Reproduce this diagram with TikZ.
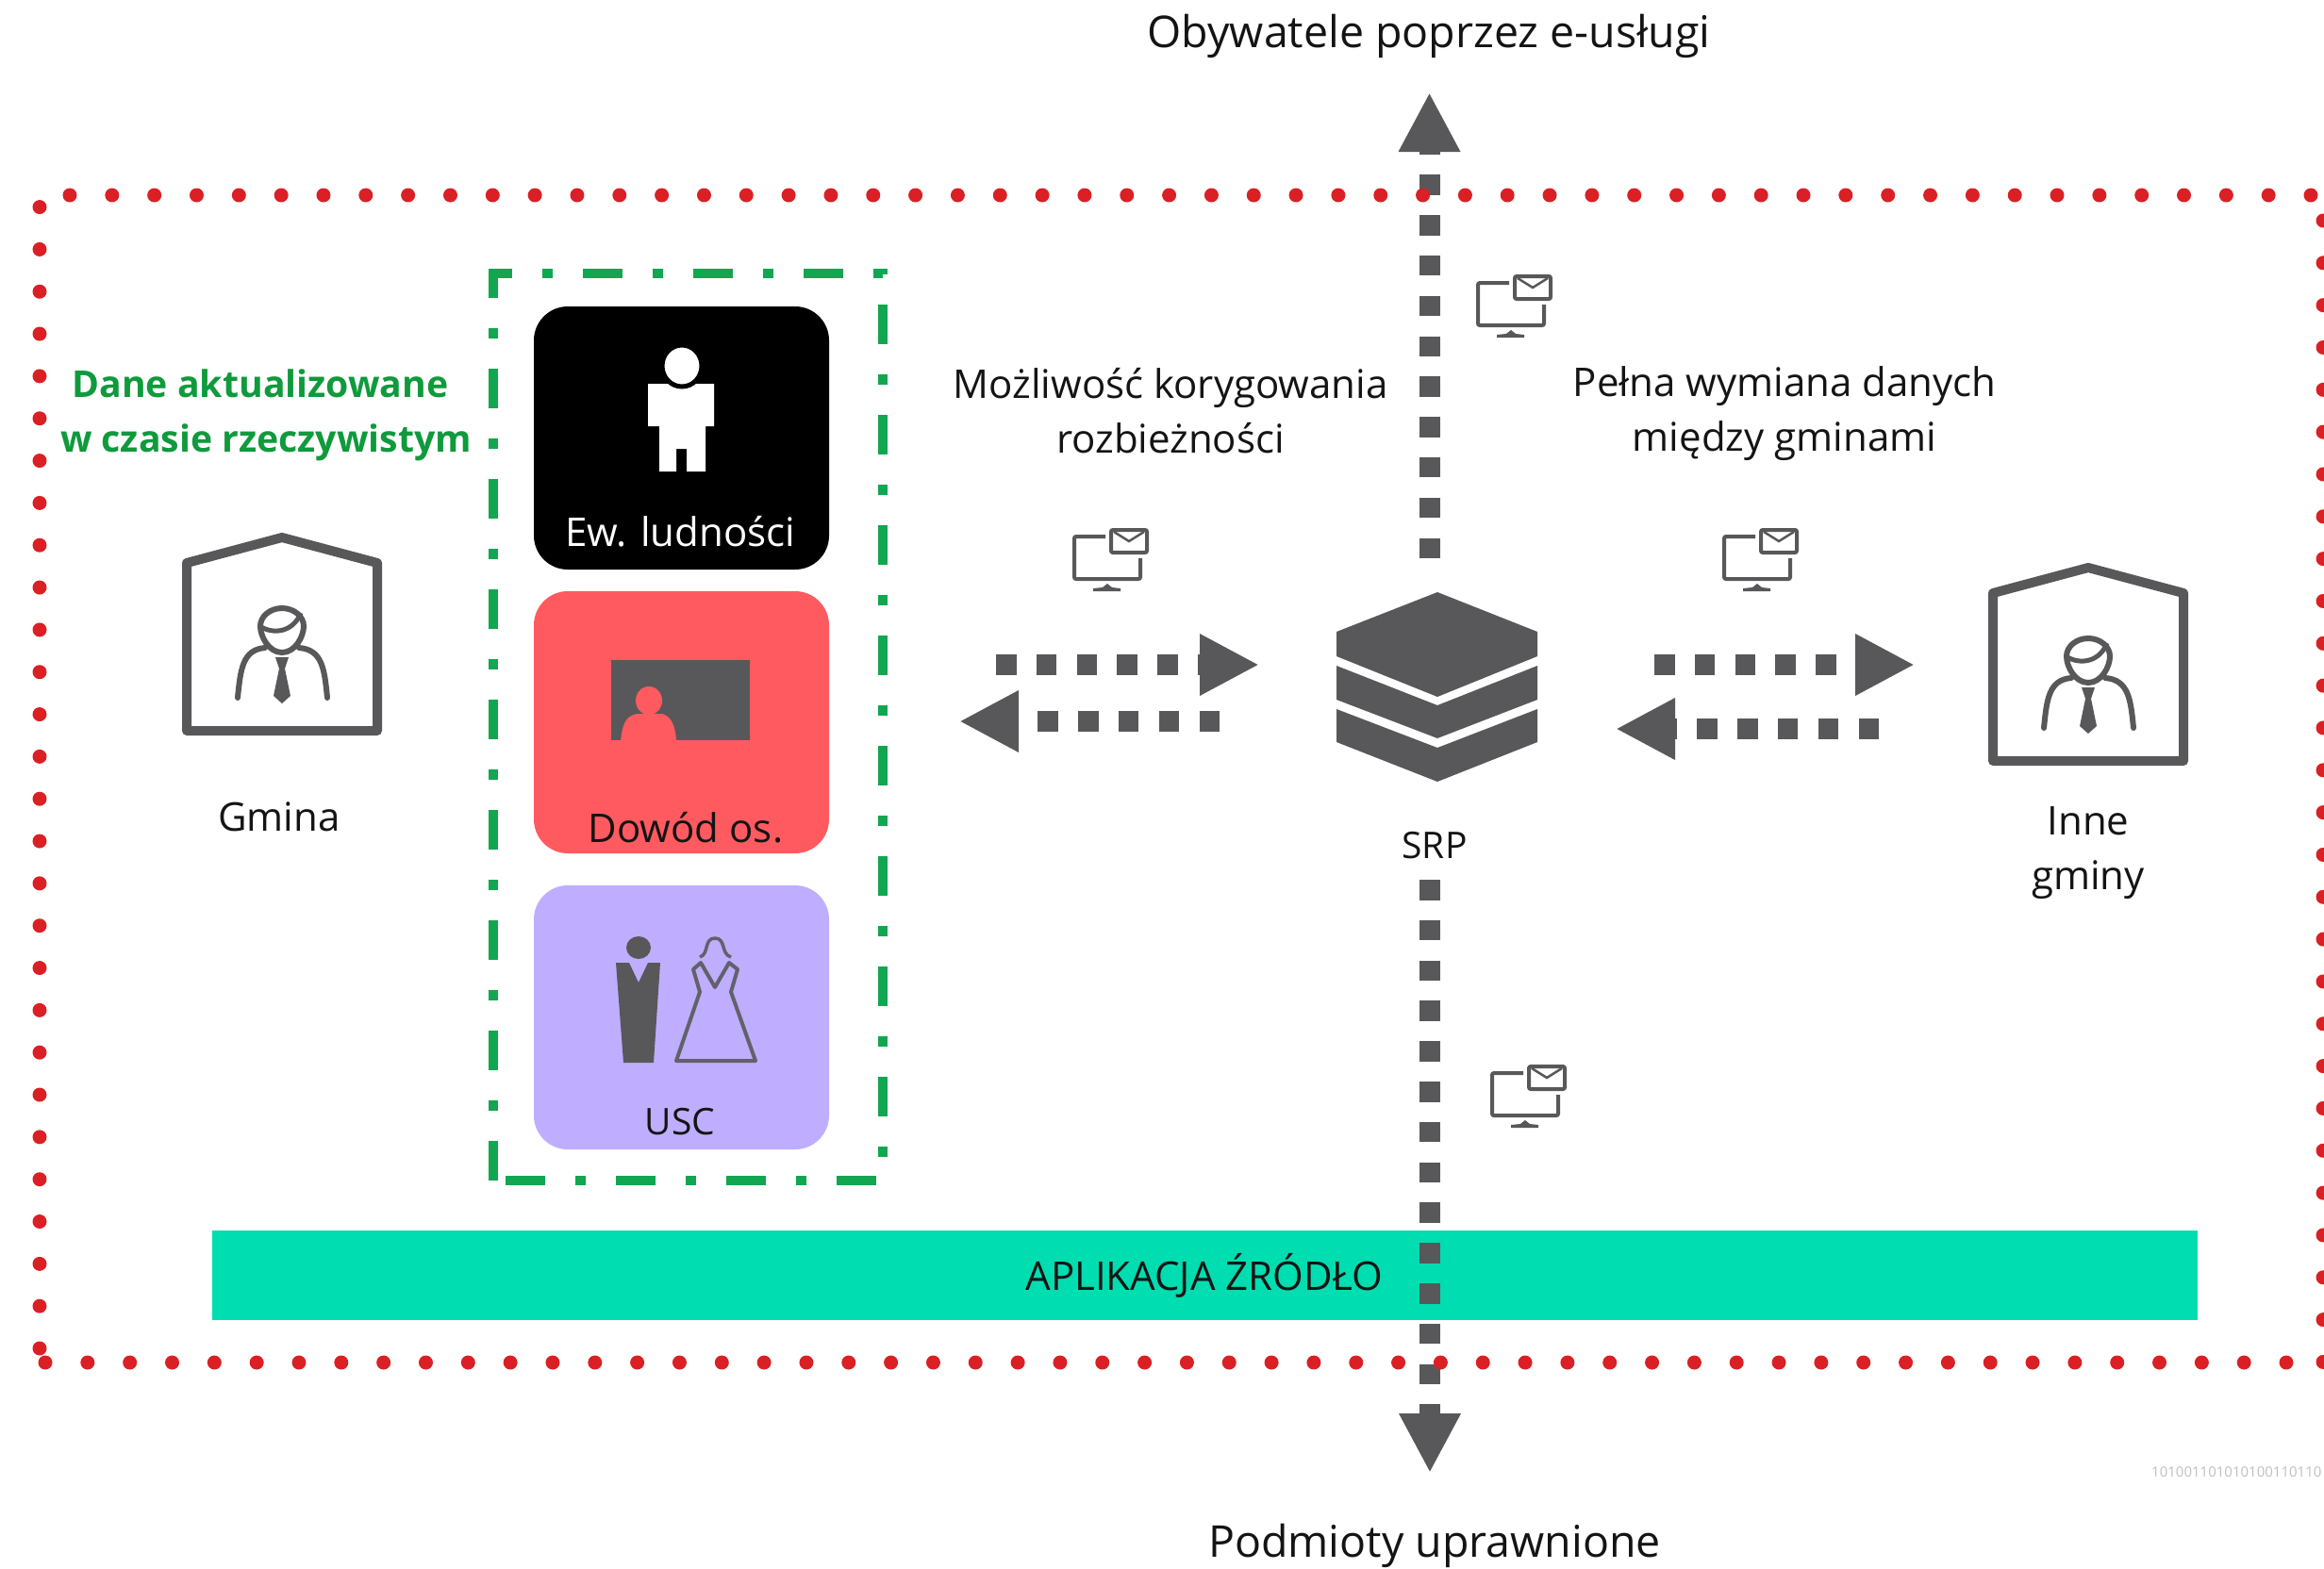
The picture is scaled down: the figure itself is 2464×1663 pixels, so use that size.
\documentclass[tikz,border=0pt]{standalone}
\usepackage{fontspec}
\setmainfont{Open Sans}
\usepackage{xcolor}
\usetikzlibrary{arrows.meta,calc}
\definecolor{icongrey}{HTML}{58585A}
\definecolor{dotred}{HTML}{DA2024}
\definecolor{framegreen}{HTML}{12A650}
\definecolor{labelgreen}{HTML}{0F9A3C}
\definecolor{barteal}{HTML}{00DDB0}
\definecolor{cardred}{HTML}{FF5A60}
\definecolor{cardviolet}{HTML}{BFAEFF}
\definecolor{textdark}{HTML}{141414}
\def\labelsize{\fontsize{42}{58}\selectfont}
\tikzset{
  lbl/.style={font=\labelsize,text=textdark,inner sep=0pt,align=center},
  headlbl/.style={lbl,font=\fontsize{46.5}{58}\selectfont},
  smalllbl/.style={lbl,font=\fontsize{39}{58}\selectfont},
  card/.style={rounded corners=36pt},
  dotline/.style={draw=dotred,line width=15pt,line cap=round,dash pattern=on 0pt off 44.83pt},
  greenline/.style={framegreen,line width=10pt,dash pattern=on 42pt off 32pt on 11pt off 32pt},
  dataflow/.style={draw=icongrey,line width=22pt,dash pattern=on 21.5pt off 21.3pt,
    -{Triangle[length=63pt,width=61pt]}},
  gminaicon/.pic={
    \draw[icongrey,line width=10pt,line join=round] (-101,27) -- (0,0) -- (101,27) -- (101,205) -- (-101,205) -- cycle;
    \draw[icongrey,line width=6pt,line cap=round] (-47,170) .. controls (-44,140) and (-42,119) .. (-18,117);
    \draw[icongrey,line width=6pt,line cap=round] (48,170) .. controls (45,140) and (43,119) .. (18,117);
    \draw[icongrey,line width=6pt] (0,75) .. controls (-13,75) and (-23,84) .. (-23,94) .. controls (-23,105) and (-14,122) .. (0,122)
      .. controls (14,122) and (23,105) .. (23,94) .. controls (23,84) and (13,75) .. (0,75) -- cycle;
    \draw[icongrey,line width=5pt] (-22,95) .. controls (-8,103) and (12,100) .. (20,80);
    \fill[icongrey] (-7,127) -- (7,127) -- (3,139) -- (9,168) -- (0,176) -- (-9,168) -- (-3,139) -- cycle;
  },
  monitoricon/.pic={
    \draw[icongrey,line width=4pt,rounded corners=2pt] (33,0) -- (0,0) -- (0,45) -- (70,45) -- (70,23);
    \draw[icongrey,line width=4pt,rounded corners=2pt] (39,-7) rectangle (77,17);
    \draw[icongrey,line width=2.5pt] (42,-5) -- (58,5) -- (74,-5);
    \fill[icongrey] (20,58) -- (20,55) -- (30,54) -- (35,50) -- (40,54) -- (49,55) -- (49,58) -- cycle;
  }
}

\begin{document}
\begin{tikzpicture}[x=1pt,y=-1pt]
  \useasboundingbox (0,0) rectangle (2464,1663);

  % Vertices
  \coordinate (upstart) at (1515.5,592);
  \coordinate (upend) at (1515.5,98);
  \coordinate (downstart) at (1516,933);
  \coordinate (downend) at (1516,1562);
  \coordinate (lefttopstart) at (1056,705);
  \coordinate (lefttopend) at (1335,705);
  \coordinate (leftlowstart) at (1293,765);
  \coordinate (leftlowend) at (1017,765);
  \coordinate (righttopstart) at (1754,705);
  \coordinate (righttopend) at (2030,705);
  \coordinate (rightlowstart) at (1992,773);
  \coordinate (rightlowend) at (1713,773);
  \coordinate (greentl) at (523,290);
  \coordinate (greenbr) at (936,1252);

  % Source bar and cards
  \fill[barteal] (225,1305) rectangle (2330,1400);
  \fill[black,card] (566,325) rectangle (879,604);
  \fill[cardred,card] (566,627) rectangle (879,905);
  \fill[cardviolet,card] (566,939) rectangle (879,1219);

  % Green frame
  \draw[greenline,dash phase=22pt] (greentl) -- (greenbr |- greentl) -- (greenbr) -- (greentl |- greenbr);
  \draw[greenline] (greentl |- greenbr) -- ($(greentl)+(0,-5)$);

  % Card icons
  \fill[white] (687,407) -- (757,407) -- (757,452) -- (748,452) -- (748,500) -- (728,500) -- (728,476)
    -- (717,476) -- (717,500) -- (699,500) -- (699,452) -- (687,452) -- cycle;
  \filldraw[fill=white,draw=black,line width=5pt] (723,388) ellipse (21 and 22);
  \fill[icongrey] (648,700) rectangle (795,785);
  \fill[cardred] (688,743) ellipse (14 and 15);
  \fill[cardred] (658,785) .. controls (660,770) and (662,760) .. (675,757) -- (702,757) .. controls (712,760) and (716,770) .. (717,785) -- cycle;
  \fill[icongrey] (677,1005) ellipse (13 and 12);
  \fill[icongrey] (653,1021) -- (667,1021) -- (677,1042) -- (687,1021) -- (700,1021) -- (693,1127) -- (661,1127) -- cycle;
  \draw[icongrey!90!cardviolet,line width=4pt,line join=round] (717,1125) -- (801,1125) -- (775,1052) -- (782,1028) -- (773,1021)
    -- (758,1047) -- (743,1021) -- (735,1028) -- (742,1052) -- cycle;
  \draw[icongrey!90!cardviolet,line width=3.5pt] (742,1015) .. controls (752,1012) and (746,995) .. (758,995) .. controls (770,995) and (764,1012) .. (775,1015);

  % SRP stack
  \fill[icongrey] (1524,628) -- (1630,670) -- (1630,696) -- (1524,739) -- (1417,696) -- (1417,670) -- cycle;
  \fill[icongrey] (1417,706) -- (1524,748) -- (1630,706) -- (1630,742) -- (1524,783) -- (1417,742) -- cycle;
  \fill[icongrey] (1417,752) -- (1524,793) -- (1630,752) -- (1630,787) -- (1524,829) -- (1417,787) -- cycle;

  % Houses and monitors
  \pic (gmina) at (299,570) {gminaicon};
  \pic (innegminy) at (2214,602) {gminaicon};
  \pic (moniup) at (1567,300) {monitoricon};
  \pic (monileft) at (1139,569) {monitoricon};
  \pic (moniright) at (1828,569) {monitoricon};
  \pic (monidown) at (1582,1138) {monitoricon};

  % Lines
  \draw[dataflow] (upstart) -- (upend);
  \draw[dataflow] (downstart) -- (downend);
  \draw[dataflow] (lefttopstart) -- (lefttopend);
  \draw[dataflow] (leftlowstart) -- (leftlowend);
  \draw[dataflow] (righttopstart) -- (righttopend);
  \draw[dataflow] (rightlowstart) -- (rightlowend);

  % Red frame
  \draw[dotline] (74,207) -- (2463,207);
  \draw[dotline] (2463,234) -- (2463,1445);
  \draw[dotline] (2424,1445) -- (48,1445);
  \draw[dotline] (42,1430) -- (42,219);

  % Labels
  \node[headlbl] (citizens) at (1515,38) {Obywatele poprzez e-usługi};
  \node[headlbl] (entitled) at (1521,1639) {Podmioty uprawnione};
  \node[lbl,text=labelgreen,font=\fontsize{39.2}{58}\selectfont\bfseries] (realtime) at (282,440) {Dane aktualizowane\hspace*{12pt}\\w czasie rzeczywistym};
  \node[lbl] (gminatext) at (296,866) {Gmina};
  \node[lbl,text=white] (ewtext) at (721,564) {Ew. ludności};
  \node[lbl] (dowodtext) at (727,878) {Dowód os.};
  \node[smalllbl] (usctext) at (721,1190) {USC};
  \node[lbl] (correct) at (1241,436) {Możliwość korygowania\\rozbieżności};
  \node[lbl] (exchange) at (1892,439) {Pełna wymiana danych\\między gminami};
  \node[smalllbl] (srptext) at (1521,897) {SRP};
  \node[lbl] (innetext) at (2214,905) {Inne\\gminy};
  \node[lbl] (apptext) at (1277,1353) {APLIKACJA ŹRÓDŁO};
  \node[inner sep=0pt,anchor=west,text=black!25,font=\fontsize{15}{18}\selectfont] (binary) at (2281,1561) {101001101010100110110};
\end{tikzpicture}
\end{document}
